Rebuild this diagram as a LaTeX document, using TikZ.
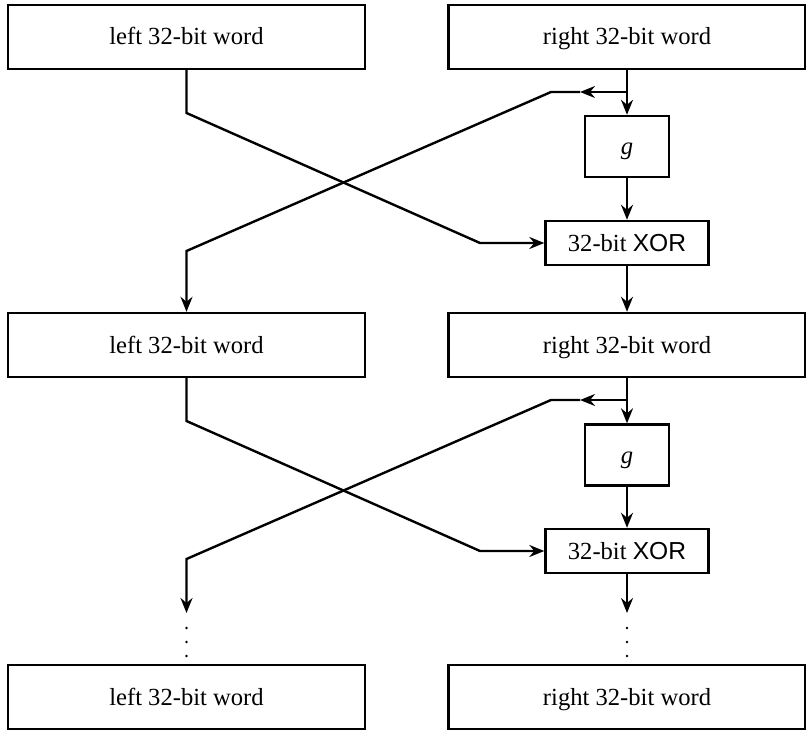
\documentclass[tikz,border=0pt]{standalone}
\usepackage{fontspec}
\setmainfont{Liberation Serif}
\newfontfamily\xorsans{Liberation Sans}
\usetikzlibrary{arrows.meta}
\tikzset{
  word/.style={draw=black,line width=1.2pt,inner sep=0pt,minimum width=178.5pt,minimum height=32pt,text height=10pt,text depth=2pt,font=\fontsize{12.3}{14}\selectfont},
  gbox/.style={draw=black,line width=1.2pt,inner sep=0pt,minimum width=42pt,minimum height=30.5pt,text height=10pt,text depth=2pt,font=\fontsize{12.3}{14}\selectfont},
  xorbox/.style={draw=black,line width=1.2pt,inner sep=0pt,minimum width=81.5pt,minimum height=22pt,text height=10pt,text depth=2pt,font=\fontsize{12.3}{14}\selectfont},
  arr/.style={line width=1.2pt,-{Stealth[length=7.5pt,width=6pt,inset=2.5pt]}},
}
\newcommand{\XOR}{32-bit {\xorsans\fontsize{12.3}{14}\selectfont XOR}}

\begin{document}
\begin{tikzpicture}[x=0.5pt,y=-0.5pt]
\useasboundingbox (0,0) rectangle (806,732);
% round 1
\node (L0) [word] at (186.5,37) {left 32-bit word};
\node (R0) [word] at (627,37) {right 32-bit word};
\node (g1) [gbox] at (627,146.5) {\textit{g}};
\node (x1) [xorbox] at (627,243) {\XOR};
\coordinate (s1) at (627,92);
\coordinate (m1) at (580,92);
\coordinate (b1) at (551,92);
\coordinate (c1) at (186.5,251);
\coordinate (d1) at (186.5,113);
\coordinate (e1) at (480,243);
% round 2
\node (L1) [word] at (186.5,345) {left 32-bit word};
\node (R1) [word] at (627,345) {right 32-bit word};
\node (g2) [gbox] at (627,455) {\textit{g}};
\node (x2) [xorbox] at (627,551) {\XOR};
\coordinate (s2) at (627,400);
\coordinate (m2) at (580,400);
\coordinate (b2) at (551,400);
\coordinate (c2) at (186.5,559);
\coordinate (d2) at (186.5,421);
\coordinate (e2) at (480,551);
% last
\node (L2) [word] at (186.5,697) {left 32-bit word};
\node (R2) [word] at (627,697) {right 32-bit word};
\coordinate (t2) at (186.5,613);
\coordinate (u2) at (627,613);
%
\draw[arr] (L0.south) -- (d1) -- (e1) -- (x1.west);
\draw[arr] (R0.south) -- (g1.north);
\draw[arr] (s1) -- (m1);
\draw[arr] (m1) -- (b1) -- (c1) -- (L1.north);
\draw[arr] (g1) -- (x1);
\draw[arr] (x1) -- (R1);
%
\draw[arr] (L1.south) -- (d2) -- (e2) -- (x2.west);
\draw[arr] (R1.south) -- (g2.north);
\draw[arr] (s2) -- (m2);
\draw[arr] (m2) -- (b2) -- (c2) -- (t2);
\draw[arr] (g2) -- (x2);
\draw[arr] (x2.south) -- (u2);
%
\foreach \y in {628,642,656} {
  \fill (186.5,\y) circle (1.4);
  \fill (627,\y) circle (1.4);
}
\end{tikzpicture}
\end{document}
